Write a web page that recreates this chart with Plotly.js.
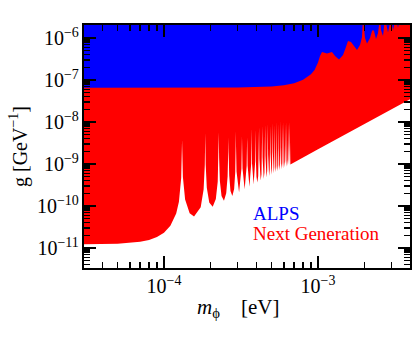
<!DOCTYPE html>
<html>
<head>
<meta charset="utf-8">
<script src="https://cdn.plot.ly/plotly-3.0.1.min.js"></script>
<style>
  html, body { margin: 0; padding: 0; background: #fff; }
  #plot { width: 415px; height: 337px; }
</style>
</head>
<body>
<div id="plot"></div>
<script>
// Next Generation sensitivity curve (mass in eV, coupling in GeV^-1)
const nextGenMass = [
  3.0e-5, 5.0e-5, 7.0e-5, 8.0e-5, 9.0e-5, 1.0e-4, 1.1e-4, 1.2e-4, 1.25e-4, 1.28e-4, 1.293e-4,
  1.31e-4,
  1.3266e-4, 1.3711e-4, 1.4673e-4, 1.5666e-4, 1.7307e-4, 1.8079e-4, 1.8408e-4,
  1.8526e-4,
  1.8644e-4, 1.8963e-4, 1.9670e-4, 2.0713e-4, 2.1706e-4, 2.2326e-4, 2.2593e-4,
  2.2690e-4,
  2.2786e-4, 2.3048e-4, 2.3633e-4, 2.4508e-4, 2.5352e-4, 2.5885e-4, 2.6116e-4,
  2.6200e-4,
  2.6283e-4, 2.6511e-4, 2.7021e-4, 2.7789e-4, 2.8537e-4, 2.9011e-4, 2.9218e-4,
  2.9293e-4,
  2.9367e-4, 2.9571e-4, 3.0722e-4, 3.1832e-4, 3.2020e-4,
  3.2088e-4,
  3.2156e-4, 3.2343e-4, 3.3399e-4, 3.4422e-4, 3.4596e-4,
  3.4659e-4,
  3.4722e-4, 3.4895e-4, 3.5876e-4, 3.6831e-4, 3.6993e-4,
  3.7052e-4,
  3.7111e-4, 3.7273e-4, 3.8193e-4, 3.9091e-4, 3.9244e-4,
  3.9300e-4,
  3.9508e-4, 3.9852e-4, 4.0377e-4, 4.0895e-4, 4.1228e-4, 4.1426e-4,
  4.1623e-4, 4.1950e-4, 4.2449e-4, 4.2942e-4, 4.3259e-4, 4.3448e-4,
  4.3636e-4, 4.3948e-4, 4.4424e-4, 4.4896e-4, 4.5199e-4, 4.5380e-4,
  4.5560e-4, 4.5859e-4, 4.6315e-4, 4.6768e-4, 4.7059e-4, 4.7233e-4,
  4.7406e-4, 4.7693e-4, 4.8132e-4, 4.8568e-4, 4.8848e-4, 4.9016e-4,
  4.9183e-4, 4.9459e-4, 4.9883e-4, 5.0304e-4, 5.0574e-4, 5.0736e-4,
  5.0897e-4, 5.1165e-4, 5.1575e-4, 5.1981e-4, 5.2243e-4, 5.2400e-4,
  5.2556e-4, 5.2815e-4, 5.3212e-4, 5.3607e-4, 5.3861e-4, 5.4013e-4,
  5.4164e-4, 5.4416e-4, 5.4801e-4, 5.5184e-4, 5.5431e-4, 5.5579e-4,
  5.5726e-4, 5.5970e-4, 5.6345e-4, 5.6718e-4, 5.6958e-4, 5.7102e-4,
  5.7245e-4, 5.7483e-4, 5.7848e-4, 5.8211e-4, 5.8445e-4, 5.8585e-4,
  5.8725e-4, 5.8957e-4, 5.9313e-4, 5.9667e-4, 5.9895e-4, 6.0032e-4,
  6.0168e-4, 6.0395e-4, 6.0742e-4, 6.1088e-4, 6.1311e-4, 6.1445e-4,
  6.1578e-4, 6.1799e-4, 6.2139e-4, 6.2477e-4, 6.2695e-4, 6.2825e-4,
  6.2956e-4, 6.3172e-4, 6.3505e-4, 6.3835e-4, 6.4049e-4, 6.4177e-4,
  6.4304e-4, 6.4516e-4, 6.4842e-4, 6.5166e-4, 6.5375e-4, 6.5500e-4,
  6.5625e-4, 6.5833e-4, 6.6152e-4,
  1.0e-3, 2.0e-3, 4.1e-3
];
const nextGenCoupling = [
  1.225e-11, 1.264e-11, 1.40e-11, 1.55e-11, 1.82e-11, 2.31e-11, 3.38e-11, 6.64e-11, 1.27e-10, 2.58e-10, 4.67e-10,
  3.7e-9,
  4.92e-10, 1.421e-10, 6.70e-11, 5.62e-11, 9.33e-11, 2.470e-10, 9.47e-10,
  5.4e-9,
  9.72e-10, 2.718e-10, 1.205e-10, 9.58e-11, 1.467e-10, 3.767e-10, 1.427e-9,
  5.6e-9,
  1.452e-9, 4.015e-10, 1.739e-10, 1.341e-10, 2.001e-10, 5.064e-10, 1.907e-9,
  4.3e-9,
  1.932e-9, 5.312e-10, 2.273e-10, 1.725e-10, 2.535e-10, 6.361e-10, 2.387e-9,
  6.0e-9,
  2.412e-9, 6.601e-10, 2.108e-10, 7.658e-10, 2.867e-9,
  4.6e-9,
  2.891e-9, 7.898e-10, 2.491e-10, 8.955e-10, 3.347e-9,
  4.2e-9,
  3.371e-9, 9.194e-10, 2.874e-10, 1.025e-9, 3.826e-9,
  7.0e-9,
  3.851e-9, 1.049e-9, 3.258e-10, 1.155e-9, 4.306e-9,
  6.5e-9,
  1.180e-9, 4.945e-10, 3.641e-10, 5.207e-10, 1.285e-9, 7.5e-9,
  1.309e-9, 5.479e-10, 4.024e-10, 5.741e-10, 1.414e-9, 8.0e-9,
  1.439e-9, 6.013e-10, 4.408e-10, 6.275e-10, 1.544e-9, 8.5e-9,
  1.569e-9, 6.548e-10, 4.791e-10, 6.810e-10, 1.674e-9, 9.0e-9,
  1.699e-9, 7.082e-10, 5.174e-10, 7.344e-10, 1.803e-9, 8.0e-9,
  1.828e-9, 7.616e-10, 5.557e-10, 7.878e-10, 1.933e-9, 9.5e-9,
  1.958e-9, 8.150e-10, 5.940e-10, 8.413e-10, 2.063e-9, 8.5e-9,
  2.088e-9, 8.685e-10, 6.324e-10, 8.947e-10, 2.192e-9, 1.0e-8,
  2.217e-9, 9.219e-10, 6.707e-10, 9.481e-10, 2.322e-9, 9.0e-9,
  2.347e-9, 9.753e-10, 7.090e-10, 1.0015e-9, 2.452e-9, 1.05e-8,
  2.477e-9, 1.0288e-9, 7.474e-10, 1.0550e-9, 2.582e-9, 9.0e-9,
  2.606e-9, 1.0822e-9, 7.857e-10, 1.1084e-9, 2.711e-9, 1.0e-8,
  2.736e-9, 1.1356e-9, 8.240e-10, 1.1618e-9, 2.841e-9, 9.0e-9,
  2.866e-9, 1.1890e-9, 8.624e-10, 1.2153e-9, 2.971e-9, 1.0e-8,
  2.996e-9, 1.2425e-9, 9.007e-10, 1.2687e-9, 3.100e-9, 9.0e-9,
  3.125e-9, 1.2959e-9, 9.390e-10, 1.3221e-9, 3.230e-9, 1.0e-8,
  3.255e-9, 1.3493e-9, 9.774e-10,
  2.233e-9, 8.93e-9, 3.754e-8
];

// ALPS sensitivity curve
const alpsMass = [
  3.0e-5, 3.0e-4, 5.0e-4, 6.0e-4, 7.0e-4, 8.0e-4, 9.0e-4, 9.5e-4, 1.0e-3,
  1.0304e-3, 1.0616e-3, 1.1441e-3, 1.2327e-3, 1.2897e-3, 1.3688e-3, 1.4535e-3, 1.5195e-3,
  1.5657e-3, 1.6378e-3, 1.7131e-3, 1.7917e-3, 1.8742e-3, 1.9311e-3, 1.9601e-3, 1.9897e-3,
  2.0197e-3, 2.0810e-3, 2.1765e-3, 2.2420e-3, 2.2758e-3, 2.3102e-3, 2.3803e-3, 2.4527e-3,
  2.5270e-3, 2.5651e-3, 2.6429e-3, 2.7231e-3, 2.8481e-3, 2.9785e-3, 3.0690e-3, 3.2093e-3,
  3.3069e-3, 3.4073e-3, 3.5108e-3, 3.6174e-3, 4.1e-3
];
const alpsCoupling = [
  6.56e-8, 6.61e-8, 6.97e-8, 7.45e-8, 8.36e-8, 1.008e-7, 1.37e-7, 1.72e-7, 2.6e-7,
  3.73e-7, 4.64e-7, 4.28e-7, 4.64e-7, 3.73e-7, 3.08e-7, 3.94e-7, 6.1e-7,
  8.48e-7, 8.03e-7, 6.45e-7, 5.18e-7, 6.81e-7, 1.056e-6, 3.0e-6, 1.245e-6,
  1.0e-6, 7.4e-7, 1.0e-6, 1.468e-6, 1.551e-6, 1.468e-6, 9.47e-7, 1.315e-6,
  3.0e-6, 1.55e-6, 1.116e-6, 3.0e-6, 1.352e-6, 3.0e-6, 1.551e-6, 3.0e-6,
  1.758e-6, 3.0e-6, 1.963e-6, 3.0e-6, 3.0e-6
];

// upper edge the exclusion regions are filled up to
const ceilingMass = [1.0e-5, 1.0e-2];
const ceilingCoupling = [1.0e-4, 1.0e-4];

const serif = 'Liberation Serif, DejaVu Serif, serif';

function ceilingTrace() {
  return {
    x: ceilingMass, y: ceilingCoupling, type: 'scatter', mode: 'lines',
    line: { width: 0 }, hoverinfo: 'skip', showlegend: false
  };
}

let traces = [
  ceilingTrace(),
  {
    x: nextGenMass, y: nextGenCoupling, type: 'scatter', mode: 'lines',
    line: { width: 0, color: '#ff0000' }, fill: 'tonexty', fillcolor: '#ff0000',
    name: 'Next Generation', hoverinfo: 'skip', showlegend: false
  },
  ceilingTrace(),
  {
    x: alpsMass, y: alpsCoupling, type: 'scatter', mode: 'lines',
    line: { width: 0, color: '#0000ff' }, fill: 'tonexty', fillcolor: '#0000ff',
    name: 'ALPS', hoverinfo: 'skip', showlegend: false
  }
];

const axisCommon = {
  type: 'log',
  showgrid: false,
  zeroline: false,
  showline: true,
  linecolor: '#000',
  linewidth: 2,
  mirror: 'allticks',
  ticks: 'inside',
  ticklen: 12,
  tickwidth: 1.5,
  tickcolor: '#000',
  dtick: 1,
  exponentformat: 'power',
  tickfont: { family: serif, size: 16, color: '#000' },
  minor: { ticks: 'inside', ticklen: 6, tickwidth: 1.5, tickcolor: '#000', dtick: 'D1', showgrid: false }
};

let layout = {
  width: 415,
  height: 337,
  margin: { l: 84, r: 5, t: 25, b: 69 },
  paper_bgcolor: '#fff',
  plot_bgcolor: '#fff',
  font: { family: serif, color: '#000' },
  xaxis: Object.assign({}, axisCommon, {
    range: [-4.5195, -2.4026]
  }),
  yaxis: Object.assign({}, axisCommon, {
    range: [-11.476, -5.6905],
    title: { text: 'g [GeV<sup>−1</sup>]', font: { family: serif, size: 20 }, standoff: 4 }
  }),
  annotations: [
    { xref: 'paper', yref: 'paper', x: 0.471, y: -0.165, xanchor: 'center', yanchor: 'middle',
      text: '<i>m</i><sub>ϕ</sub>\u2003[eV]', showarrow: false, font: { family: serif, size: 21, color: '#000' } },
    { xref: 'paper', yref: 'paper', x: 0.512, y: 0.226, xanchor: 'left', yanchor: 'middle',
      text: 'ALPS', showarrow: false, font: { family: serif, size: 19, color: '#0000ff' } },
    { xref: 'paper', yref: 'paper', x: 0.512, y: 0.144, xanchor: 'left', yanchor: 'middle',
      text: 'Next Generation', showarrow: false, font: { family: serif, size: 19, color: '#ff0000' } }
  ],
  showlegend: false
};

Plotly.newPlot('plot', traces, layout, { displayModeBar: false, staticPlot: true });
</script>
</body>
</html>
